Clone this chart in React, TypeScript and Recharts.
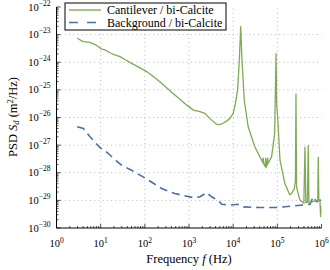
import React from 'react';
import { LineChart, Line, XAxis, YAxis, ReferenceLine } from 'recharts';

// Cantilever / bi-Calcite (green, solid)
const GREEN_F = [
  2.95, 4.0, 5.75, 7.9, 10.5, 12.6, 16.2, 20, 27.5, 35.5, 50, 71, 110, 158, 219, 316, 437, 631, 891,
  1259, 1778, 2290, 2950, 3550, 4170, 5000, 5890, 7080, 8510, 10000, 11200, 12600, 13800, 14800,
  15800, 17800, 21900, 30900, 43700, 45700, 47900, 49000, 52500, 55000, 56200, 58900, 60300, 61700,
  74100, 87100, 93300, 96600, 101800, 114800, 147900, 190500, 208900, 239900, 257000, 264200,
  272300, 323600, 398100, 422700, 441600, 478600, 501200, 518800, 707900, 822200, 845300, 871000,
  922600, 955000,
];
const GREEN_PSD = [
  7.4e-24, 5.6e-24, 5.2e-24, 4.2e-24, 3.0e-24, 2.8e-24, 2.2e-24, 1.9e-24, 1.6e-24, 1.26e-24, 9.1e-25,
  6.8e-25, 4.6e-25, 3.0e-25, 1.95e-25, 1.17e-25, 7.4e-26, 4.5e-26, 2.8e-26,
  1.86e-26, 1.62e-26, 1.41e-26, 9.3e-27, 7.1e-27, 5.75e-27, 5.5e-27, 6.2e-27, 7.4e-27, 9.3e-27,
  1.41e-26, 3.2e-26, 1.0e-25, 1.2e-24, 2.0e-23,
  1.3e-24, 4.3e-26, 4.6e-27, 8.7e-28, 2.9e-28, 2.5e-28, 3.5e-28, 2.1e-28, 1.74e-28, 3.5e-28, 1.66e-28,
  1.9e-28, 3.5e-28, 2.2e-28,
  3.8e-28, 2.7e-27, 2.1e-24, 3.0e-26, 1.07e-26, 2.9e-28, 4.1e-29, 1.6e-29, 1.78e-29, 2.5e-29, 5.0e-29,
  7.4e-26,
  3.0e-29, 1.02e-29, 8.0e-30, 8.7e-28, 8.5e-30, 8.5e-30, 1.0e-27, 8.0e-30, 9.5e-30, 1.0e-29, 3.8e-28,
  1.0e-29,
  1.0e-29, 2.5e-30,
];

// Background / bi-Calcite (blue, dashed)
const BLUE_F = [
  2.95, 4.07, 5.75, 6.76, 9.55, 12.6, 16.2, 19.5, 29.5, 50, 71, 91, 120, 186, 240, 372, 479, 676,
  1259, 1778, 2510, 3240, 4570, 5500, 8500, 12900, 17000, 39800, 95500, 229000, 550000, 645000,
  776000, 891000, 944000, 977000,
];
const BLUE_PSD = [
  4.6e-27, 4.0e-27, 2.0e-27, 1.5e-27, 8.3e-28, 6.2e-28, 4.4e-28, 3.3e-28, 1.9e-28, 1.23e-28, 8.9e-29,
  7.1e-29, 5.4e-29, 3.5e-29, 2.7e-29, 2.0e-29, 1.78e-29, 1.55e-29,
  1.26e-29, 1.35e-29, 1.9e-29, 1.35e-29, 1.0e-29, 7.2e-30, 6.8e-30, 7.2e-30, 5.8e-30, 5.5e-30, 5.5e-30,
  6.3e-30, 7.2e-30, 1.35e-29,
  8.9e-30, 1.0e-29, 1.0e-29, 3.3e-30,
];

const X_MAJOR = [1, 10, 100, 1e3, 1e4, 1e5, 1e6];
const Y_MAJOR = [1e-30, 1e-29, 1e-28, 1e-27, 1e-26, 1e-25, 1e-24, 1e-23, 1e-22];

const GREEN = '#7fab55';
const BLUE = '#4a6ea8';
const FONT = '"Liberation Serif", serif';

const green = GREEN_F.map((f, i) => ({ f, psd: GREEN_PSD[i] }));
const blue = BLUE_F.map((f, i) => ({ f, psd: BLUE_PSD[i] }));

const withMinor = (majors: number[]) => [
  ...majors,
  ...majors.slice(0, -1).flatMap((m) => [2, 3, 4, 5, 6, 7, 8, 9].map((k) => k * m)),
];
const X_TICKS = withMinor(X_MAJOR);
const Y_TICKS = withMinor(Y_MAJOR);

const expOf = (v: number) => Math.round(Math.log10(v));
const isMajor = (v: number) => Math.abs(Math.log10(v) - expOf(v)) < 1e-6;
const fmtExp = (n: number) => (n < 0 ? `\u2212${-n}` : `${n}`);

const BottomTick = (props: any) => {
  const { x, y, payload } = props;
  const major = isMajor(payload.value);
  return (
    <g>
      <line x1={x} x2={x} y1={y} y2={y - (major ? 4 : 2)} stroke="#000" strokeWidth={0.7} />
      {major && (
        <text x={x} y={y + 19} textAnchor="middle" fontSize={10.5} fill="#000">
          <tspan>10</tspan>
          <tspan dy={-4.5} fontSize={7.5}>{fmtExp(expOf(payload.value))}</tspan>
        </text>
      )}
    </g>
  );
};

const TopTick = (props: any) => {
  const { x, y, payload } = props;
  const major = isMajor(payload.value);
  return <line x1={x} x2={x} y1={y} y2={y + (major ? 4 : 2)} stroke="#000" strokeWidth={0.7} />;
};

const LeftTick = (props: any) => {
  const { x, y, payload } = props;
  const major = isMajor(payload.value);
  return (
    <g>
      <line x1={x} x2={x + (major ? 4 : 2)} y1={y} y2={y} stroke="#000" strokeWidth={0.7} />
      {major && (
        <text x={x - 6} y={y + 3.5} textAnchor="end" fontSize={10.5} fill="#000">
          <tspan>10</tspan>
          <tspan dy={-5} fontSize={7.5}>{fmtExp(expOf(payload.value))}</tspan>
        </text>
      )}
    </g>
  );
};

const RightTick = (props: any) => {
  const { x, y, payload } = props;
  const major = isMajor(payload.value);
  return <line x1={x} x2={x - (major ? 4 : 2)} y1={y} y2={y} stroke="#000" strokeWidth={0.7} />;
};

const Legend = () => (
  <svg width={163} height={29} style={{ position: 'absolute', left: 64, top: 2 }}>
    <rect x={1} y={1} width={161} height={27} fill="#fff" stroke="#000" strokeWidth={1} />
    <line x1={5} x2={37} y1={8} y2={8} stroke={GREEN} strokeWidth={1.4} />
    <line x1={5} x2={37} y1={20.5} y2={20.5} stroke={BLUE} strokeWidth={1.6} strokeDasharray="9 9" />
    <text x={43} y={12} fontSize={12} fill="#000">Cantilever / bi-Calcite</text>
    <text x={43} y={24.5} fontSize={12} fill="#000">Background / bi-Calcite</text>
  </svg>
);

export default function App() {
  return (
    <div style={{ position: 'absolute', left: 0, top: 0, width: 330, height: 270, fontFamily: FONT, background: '#fff' }}>
      <LineChart width={330} height={270} margin={{ top: 7, right: 8.5, bottom: 0, left: 0 }}>
        <XAxis
          dataKey="f"
          type="number"
          scale="log"
          domain={[1, 1e6]}
          allowDataOverflow
          ticks={X_TICKS}
          interval={0}
          tickSize={0}
          tickMargin={0}
          tick={<BottomTick />}
          height={42}
          axisLine={{ stroke: '#000' }}
          label={{
            content: () => (
              <text x={189} y={263} textAnchor="middle" fontSize={12.5} fill="#000" fontFamily={FONT}>
                Frequency <tspan fontStyle="italic">f</tspan> (Hz)
              </text>
            ),
          }}
        />
        <XAxis
          xAxisId="top"
          orientation="top"
          dataKey="f"
          type="number"
          scale="log"
          domain={[1, 1e6]}
          allowDataOverflow
          ticks={X_TICKS}
          interval={0}
          tickSize={0}
          tickMargin={0}
          tick={<TopTick />}
          height={0}
          axisLine={{ stroke: '#000' }}
        />
        <YAxis
          type="number"
          scale="log"
          domain={[1e-30, 1e-22]}
          allowDataOverflow
          ticks={Y_TICKS}
          interval={0}
          tickSize={0}
          tickMargin={0}
          tick={<LeftTick />}
          width={56.5}
          axisLine={{ stroke: '#000' }}
          label={{
            content: () => (
              <text
                x={17}
                y={117}
                transform="rotate(-90 17 117)"
                textAnchor="middle"
                fontSize={12.5}
                fill="#000"
                fontFamily={FONT}
              >
                PSD <tspan fontStyle="italic">S</tspan>
                <tspan fontStyle="italic" fontSize={8.5} dy={2}>d</tspan>
                <tspan dy={-2}> (m</tspan>
                <tspan fontSize={8.5} dy={-4.5}>2</tspan>
                <tspan dy={4.5}>/Hz)</tspan>
              </text>
            ),
          }}
        />
        <YAxis
          yAxisId="right"
          orientation="right"
          type="number"
          scale="log"
          domain={[1e-30, 1e-22]}
          allowDataOverflow
          ticks={Y_TICKS}
          interval={0}
          tickSize={0}
          tickMargin={0}
          tick={<RightTick />}
          width={0}
          axisLine={{ stroke: '#000' }}
        />
        {X_MAJOR.slice(1, -1).map((v) => (
          <ReferenceLine key={`gx-${v}`} x={v} stroke="#a8a8a8" strokeDasharray="1 3.2" strokeWidth={0.8} />
        ))}
        {Y_MAJOR.slice(1, -1).map((v) => (
          <ReferenceLine key={`gy-${v}`} y={v} stroke="#a8a8a8" strokeDasharray="1 3.2" strokeWidth={0.8} />
        ))}
        <Line
          data={blue}
          dataKey="psd"
          type="linear"
          stroke={BLUE}
          strokeWidth={1.6}
          strokeDasharray="8 5"
          dot={false}
          isAnimationActive={false}
        />
        <Line
          data={green}
          dataKey="psd"
          type="linear"
          stroke={GREEN}
          strokeWidth={1.3}
          dot={false}
          isAnimationActive={false}
        />
      </LineChart>
      <Legend />
    </div>
  );
}
